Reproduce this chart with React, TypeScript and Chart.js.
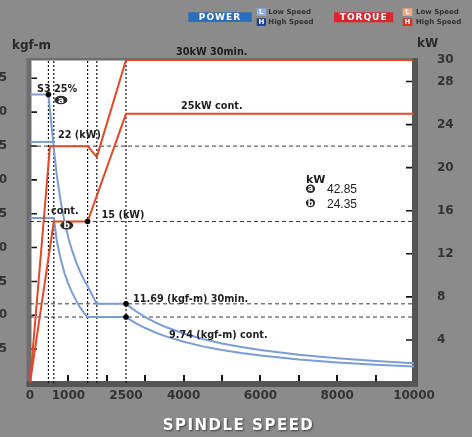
import { useEffect, useRef } from 'react';
import { Chart, registerables } from 'chart.js';

Chart.register(...registerables);

// ---- axis ticks / labels ----
const speedLabels = [0, 1000, 2500, 4000, 6000, 8000, 10000];
const speedTickMarks = [1000, 2000, 3000, 4000, 5000, 6000, 7000, 8000, 9000];
const torqueLabels = [5, 10, 15, 20, 25, 30, 35, 40, 45];
const powerLabels = [4, 8, 12, 16, 20, 24, 28, 30];
const powerTickMarks = [4, 8, 12, 16, 20, 24, 28];

// ---- power curves (kW, right axis) ----
const s3PowerSpeed = [0, 520, 1500, 1740, 2500, 10000];
const s3PowerKW = [0, 22, 22, 21, 30, 30];
const contPowerSpeed = [0, 620, 1500, 2500, 10000];
const contPowerKW = [0, 15, 15, 25, 25];

// ---- torque curves (kgf-m, left axis) ----
const s3TorqueSpeed = [0, 480, 620, 700, 800, 900, 1000, 1100, 1200, 1300, 1400, 1500, 1740, 2500, 2750, 3000, 3250, 3500, 4000, 4500, 5000, 5500, 6000, 7000, 8000, 9000, 10000];
const s3Torque = [42.6, 42.6, 34.6, 30.6, 26.8, 23.8, 21.4, 19.5, 17.9, 16.5, 15.3, 14.3, 11.69, 11.69, 10.63, 9.74, 8.99, 8.35, 7.31, 6.49, 5.84, 5.31, 4.87, 4.17, 3.65, 3.25, 2.92];
const s3LowTorqueSpeed = [0, 620];
const s3LowTorque = [35.6, 35.6];
const contTorqueSpeed = [0, 620, 700, 800, 900, 1000, 1100, 1200, 1300, 1400, 1500, 2500, 2750, 3000, 3250, 3500, 4000, 4500, 5000, 5500, 6000, 7000, 8000, 9000, 10000];
const contTorque = [24.35, 24.35, 20.9, 18.3, 16.2, 14.6, 13.3, 12.2, 11.2, 10.4, 9.74, 9.74, 8.85, 8.12, 7.49, 6.96, 6.09, 5.41, 4.87, 4.43, 4.06, 3.48, 3.04, 2.71, 2.44];

// ---- guides and markers ----
const powerGuides = [22, 15];
const torqueGuides = [11.69, 9.74];
const speedGuides = [480, 620, 1500, 1740, 2500];
const torqueMarkSpeed = [480, 2500, 2500];
const torqueMarks = [42.6, 11.69, 9.74];
const powerMarkSpeed = [1500];
const powerMarks = [15];

const SPEED_MAX = 10000;
const TORQUE_MAX = 47.7;
const POWER_MAX = 30;

const RED = '#e2482b';
const BLUE = '#7b9dd3';
const FONT = 'DejaVu Sans';

const pts = (xs: number[], ys: number[]) => xs.map((x, i) => ({ x, y: ys[i] }));

function text(ctx: CanvasRenderingContext2D, s: string, x: number, y: number, font: string, color: string, align: CanvasTextAlign = 'left', baseline: CanvasTextBaseline = 'alphabetic', spacing = '0px') {
  ctx.save();
  ctx.font = font;
  ctx.fillStyle = color;
  ctx.textAlign = align;
  ctx.textBaseline = baseline;
  (ctx as any).letterSpacing = spacing;
  ctx.fillText(s, x, y);
  ctx.restore();
}

function badge(ctx: CanvasRenderingContext2D, letter: string, cx: number, cy: number, rx: number, ry: number, size: number) {
  ctx.save();
  ctx.fillStyle = '#2b2b2b';
  ctx.beginPath();
  ctx.ellipse(cx, cy, rx, ry, 0, 0, Math.PI * 2);
  ctx.fill();
  ctx.restore();
  text(ctx, letter, cx, cy + 0.5, `bold ${size}px ${FONT}`, '#ffffff', 'center', 'middle');
}

function box(ctx: CanvasRenderingContext2D, x: number, y: number, w: number, h: number, color: string, label: string, size: number, spacing = '0px') {
  ctx.save();
  ctx.fillStyle = color;
  ctx.fillRect(x, y, w, h);
  ctx.restore();
  text(ctx, label, x + w / 2, y + h / 2 + 0.5, `bold ${size}px ${FONT}`, '#ffffff', 'center', 'middle', spacing);
}

const decor = {
  id: 'decor',
  beforeDatasetsDraw(chart: any) {
    const { ctx, chartArea: a, scales } = chart;
    const X = (v: number) => scales.x.getPixelForValue(v);
    const YT = (v: number) => scales.yT.getPixelForValue(v);
    const YP = (v: number) => scales.yP.getPixelForValue(v);
    ctx.save();
    ctx.fillStyle = '#ffffff';
    ctx.fillRect(a.left, a.top, a.right - a.left, a.bottom - a.top);
    // frame
    ctx.fillStyle = '#6e6e6e';
    ctx.fillRect(a.left - 3.5, a.top - 2, 5, a.bottom - a.top + 6);
    ctx.fillRect(a.left - 3.5, a.top - 2, a.right - a.left + 7.5, 2.5);
    ctx.fillStyle = '#555555';
    ctx.fillRect(a.right - 2, a.top - 2, 6, a.bottom - a.top + 6);
    ctx.fillRect(a.left - 3.5, a.bottom - 2, a.right - a.left + 7.5, 6);
    // inner tick marks
    ctx.strokeStyle = '#151515';
    ctx.lineWidth = 2;
    ctx.beginPath();
    speedTickMarks.forEach((v) => {
      const x = Math.round(X(v));
      ctx.moveTo(x, a.bottom - 8);
      ctx.lineTo(x, a.bottom - 2);
    });
    ctx.stroke();
    ctx.lineWidth = 1.6;
    ctx.beginPath();
    torqueLabels.forEach((v) => {
      const y = YT(v);
      ctx.moveTo(a.left + 1.5, y);
      ctx.lineTo(a.left + 7, y);
    });
    powerTickMarks.forEach((v) => {
      const y = YP(v);
      ctx.moveTo(a.right - 8, y);
      ctx.lineTo(a.right - 2, y);
    });
    ctx.stroke();
    ctx.restore();
  },
  afterDatasetsDraw(chart: any) {
    const { ctx, chartArea: a, scales } = chart;
    const X = (v: number) => scales.x.getPixelForValue(v);
    const YT = (v: number) => scales.yT.getPixelForValue(v);
    const YP = (v: number) => scales.yP.getPixelForValue(v);
    const f = `bold 9.7px ${FONT}`;
    const dark = '#1e1e1e';

    // curve annotations
    text(ctx, 'S3 25%', X(0) + 7, YT(42.6) - 2.5, f, dark);
    badge(ctx, 'a', X(480) + 12.5, YT(42.6) + 5.5, 6.5, 4.3, 9);
    text(ctx, '22 (kW)', X(0) + 28, YP(22) - 8.3, f, dark);
    text(ctx, '25kW cont.', X(0) + 151, YP(25) - 4.5, f, dark);
    text(ctx, '30kW 30min.', X(0) + 146, YP(30) - 5.5, f, dark);
    text(ctx, 'cont.', X(0) + 21, YT(24.35) - 3.8, f, dark);
    badge(ctx, 'b', X(620) + 13, YP(15) + 3.8, 6.5, 4.3, 9);
    text(ctx, '15 (kW)', X(1500) + 14, YP(15) - 3.4, f, dark);
    text(ctx, '11.69 (kgf-m) 30min.', X(2500) + 7, YT(11.69) - 1.8, f, dark);
    text(ctx, '9.74 (kgf-m) cont.', X(2500) + 43, YT(9.74) + 21, f, dark);

    // in-plot value legend
    text(ctx, 'kW', 306, 183, `bold 11px ${FONT}`, dark);
    badge(ctx, 'a', 310.5, 188.7, 4.6, 4.2, 8);
    text(ctx, '42.85', 327, 193, `12px Liberation Sans`, dark);
    badge(ctx, 'b', 310.5, 203, 4.6, 4.2, 8);
    text(ctx, '24.35', 327, 207.5, `12px Liberation Sans`, dark);

    // axis titles
    text(ctx, 'kgf-m', 12, 49, `bold 12px ${FONT}`, '#2a2a2a');
    text(ctx, 'kW', 417, 46.5, `bold 12px ${FONT}`, '#2a2a2a');

    ctx.save();
    ctx.shadowColor = 'rgba(0,0,0,0.55)';
    ctx.shadowOffsetX = 1;
    ctx.shadowOffsetY = 1;
    ctx.shadowBlur = 2;
    text(ctx, 'SPINDLE SPEED', (a.left + a.right) / 2 + 16.5, 426.5, `bold 15px ${FONT}`, '#ffffff', 'center', 'middle', '1.5px');
    ctx.restore();

    // top legend
    box(ctx, 188.3, 12.3, 63.4, 9.6, '#2a6db8', 'POWER', 9, '1px');
    box(ctx, 256.7, 8.3, 9.3, 7.5, '#8fb0e0', 'L', 7);
    box(ctx, 256.7, 18.3, 9.3, 7.5, '#1d3f8e', 'H', 7);
    text(ctx, 'Low Speed', 268.3, 12.3, `bold 7px ${FONT}`, '#333333', 'left', 'middle');
    text(ctx, 'High Speed', 268.3, 22.3, `bold 7px ${FONT}`, '#333333', 'left', 'middle');
    box(ctx, 334, 12.3, 59.3, 10, '#d6282d', 'TORQUE', 9, '1px');
    box(ctx, 402.7, 8.3, 9.6, 7.7, '#f2a784', 'L', 7);
    box(ctx, 402.7, 18.3, 9.6, 7.7, '#d9302a', 'H', 7);
    text(ctx, 'Low Speed', 416, 12.3, `bold 7px ${FONT}`, '#333333', 'left', 'middle');
    text(ctx, 'High Speed', 416, 22.3, `bold 7px ${FONT}`, '#333333', 'left', 'middle');
  },
};

const tickFont = { family: FONT, weight: 'bold' as const, size: 12 };

export default function App() {
  const ref = useRef<HTMLCanvasElement | null>(null);

  useEffect(() => {
    if (!ref.current) return;
    const line = (data: any[], color: string, axis: string, width = 2, dash: number[] = []) => ({
      data,
      yAxisID: axis,
      borderColor: color,
      borderWidth: width,
      borderDash: dash,
      pointRadius: 0,
      fill: false,
      tension: 0,
    });
    const datasets: any[] = [
      {
        data: pts(torqueMarkSpeed, torqueMarks),
        yAxisID: 'yT',
        showLine: false,
        pointRadius: 2.8,
        pointBackgroundColor: '#000',
        pointBorderWidth: 0,
      },
      {
        data: pts(powerMarkSpeed, powerMarks),
        yAxisID: 'yP',
        showLine: false,
        pointRadius: 2.8,
        pointBackgroundColor: '#000',
        pointBorderWidth: 0,
      },
      line(pts(s3PowerSpeed, s3PowerKW), RED, 'yP'),
      line(pts(contPowerSpeed, contPowerKW), RED, 'yP'),
      line(pts(s3TorqueSpeed, s3Torque), BLUE, 'yT'),
      line(pts(s3LowTorqueSpeed, s3LowTorque), BLUE, 'yT'),
      line(pts(contTorqueSpeed, contTorque), BLUE, 'yT'),
      ...powerGuides.map((v) => line([{ x: 0, y: v }, { x: SPEED_MAX, y: v }], '#3a3a3a', 'yP', 1, [4, 3])),
      ...torqueGuides.map((v) => line([{ x: 0, y: v }, { x: SPEED_MAX, y: v }], '#3a3a3a', 'yT', 1, [4, 3])),
      ...speedGuides.map((v) => line([{ x: v, y: 0 }, { x: v, y: TORQUE_MAX }], '#111111', 'yT', 1.2, [2, 2])),
    ];

    const chart = new Chart(ref.current, {
      type: 'line',
      data: { datasets },
      options: {
        responsive: false,
        animation: false,
        events: [],
        layout: { padding: { top: 60, left: 0, right: 0, bottom: 0 } },
        plugins: { legend: { display: false }, tooltip: { enabled: false } },
        scales: {
          x: {
            type: 'linear',
            min: 0,
            max: SPEED_MAX,
            grid: { display: false, drawTicks: false },
            border: { display: false },
            ticks: { font: tickFont, color: '#333333', padding: 6, autoSkip: false, maxRotation: 0, callback: (v: any) => String(v) },
            afterBuildTicks: (s: any) => { s.ticks = speedLabels.map((value) => ({ value })); },
            afterFit: (s: any) => { s.height = 54; },
          },
          yT: {
            type: 'linear',
            position: 'left',
            min: 0,
            max: TORQUE_MAX,
            grid: { display: false, drawTicks: false },
            border: { display: false },
            ticks: { font: tickFont, color: '#333333', padding: 23, autoSkip: false, callback: (v: any) => String(v) },
            afterBuildTicks: (s: any) => { s.ticks = torqueLabels.map((value) => ({ value })); },
            afterFit: (s: any) => { s.width = 30; },
          },
          yP: {
            type: 'linear',
            position: 'right',
            min: 0,
            max: POWER_MAX,
            grid: { display: false, drawTicks: false },
            border: { display: false },
            ticks: { font: tickFont, color: '#333333', padding: 23, autoSkip: false, callback: (v: any) => String(v) },
            afterBuildTicks: (s: any) => { s.ticks = powerLabels.map((value) => ({ value })); },
            afterFit: (s: any) => { s.width = 58; },
          },
        },
      } as any,
      plugins: [decor],
    });
    return () => chart.destroy();
  }, []);

  return (
    <div style={{ position: 'fixed', left: 0, top: 0, width: 472, height: 437, background: '#8b8b8b', overflow: 'hidden' }}>
      <canvas ref={ref} width={472} height={437} style={{ display: 'block' }} />
    </div>
  );
}
